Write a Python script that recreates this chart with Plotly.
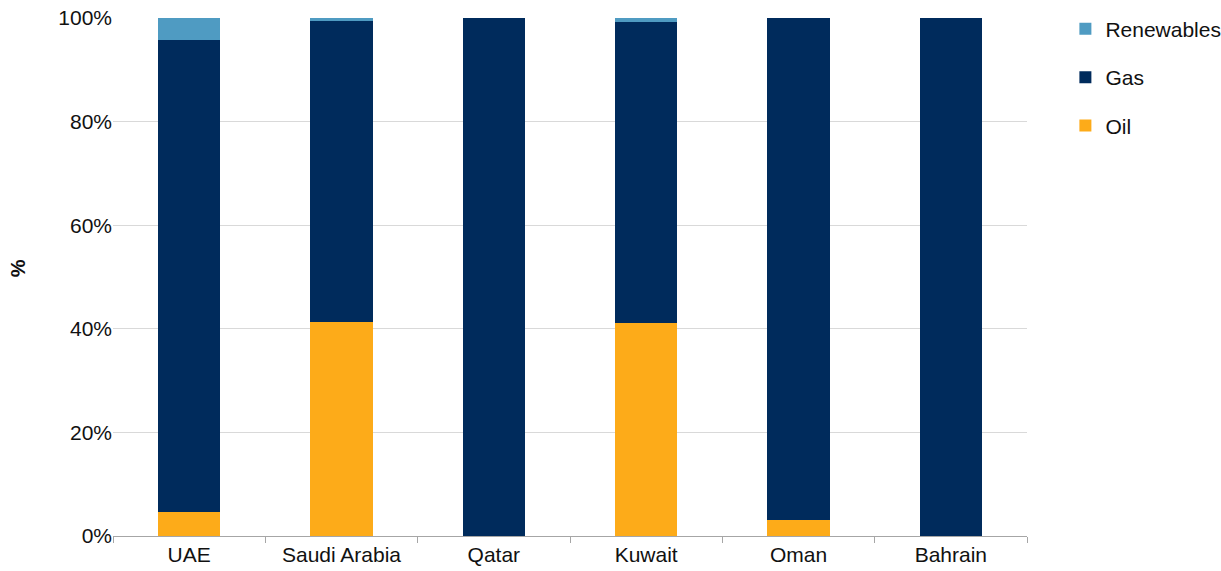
import plotly.graph_objects as go

countries = ["UAE", "Saudi Arabia", "Qatar", "Kuwait", "Oman", "Bahrain"]
oil = [4.7, 41.4, 0.0, 41.2, 3.0, 0.0]
gas = [91.1, 58.1, 100.0, 58.1, 97.0, 100.0]
renewables = [4.2, 0.5, 0.0, 0.7, 0.0, 0.0]
y_title = "%"

# (name, values, colour, legend position)
series = [
    ("Oil", oil, "#fdab19", 3),
    ("Gas", gas, "#002b5c", 2),
    ("Renewables", renewables, "#4f9bc2", 1),
]

fig = go.Figure()
for name, vals, color, rank in series:
    fig.add_trace(go.Bar(
        x=countries, y=vals, name=name, legendgroup=name, legendrank=rank,
        marker=dict(color=color, line=dict(width=0)),
    ))

font = dict(family="Liberation Sans, Arial, sans-serif", size=21, color="#111111")

fig.update_layout(
    barmode="stack",
    bargap=0.59,
    width=1221, height=571,
    margin=dict(l=113, r=194, t=18, b=35, autoexpand=False),
    paper_bgcolor="white", plot_bgcolor="white",
    font=font,
    showlegend=True,
    legend=dict(
        x=1.042, y=1.018, xanchor="left", yanchor="top",
        traceorder="grouped", tracegroupgap=18,
        font=font, itemwidth=30,
    ),
    xaxis=dict(
        showline=True, linecolor="#a6a6a6", linewidth=1,
        ticks="outside", tickson="boundaries", ticklen=6, tickcolor="#a6a6a6",
        showgrid=False, automargin=False,
    ),
    yaxis=dict(
        range=[0, 100], dtick=20, ticksuffix="%",
        showgrid=True, gridcolor="#d9d9d9", gridwidth=1,
        zeroline=False, showline=False, ticks="", automargin=False,
    ),
)

# vertical axis title, rotated, to the left of the tick labels
fig.add_annotation(
    text=f"<b>{y_title}</b>", textangle=-90,
    xref="paper", yref="paper", x=-0.104, y=0.517,
    xanchor="center", yanchor="middle", showarrow=False,
    font=dict(family=font["family"], size=20, color="#111111"),
)

fig.write_html("out.html")
